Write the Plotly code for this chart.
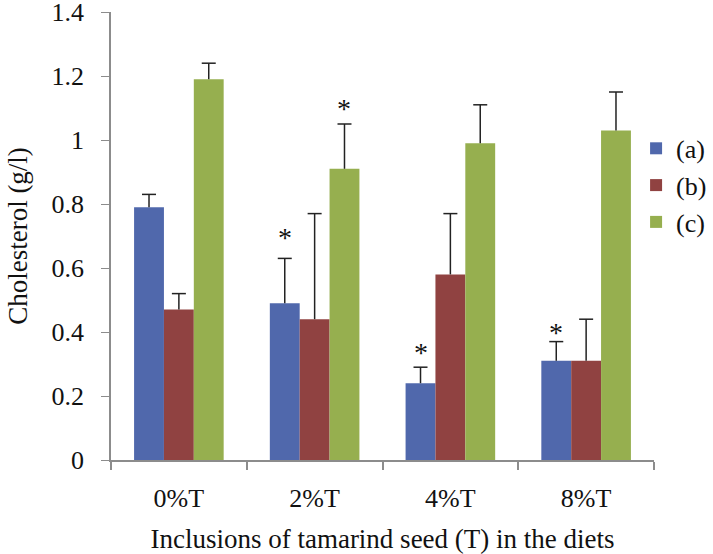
import plotly.graph_objects as go

categories = ["0%T", "2%T", "4%T", "8%T"]
series_names = ["(a)", "(b)", "(c)"]
values_a = [0.79, 0.49, 0.24, 0.31]
values_b = [0.47, 0.44, 0.58, 0.31]
values_c = [1.19, 0.91, 0.99, 1.03]
err_a = [0.04, 0.14, 0.05, 0.06]
err_b = [0.05, 0.33, 0.19, 0.13]
err_c = [0.05, 0.14, 0.12, 0.12]
# significance marks: (category index, series index, y position)
stars = [(1, 0, 0.695), (1, 2, 1.10), (2, 0, 0.335), (3, 0, 0.40)]
y_ticks = [0, 0.2, 0.4, 0.6, 0.8, 1, 1.2, 1.4]
y_tick_labels = ["0", "0.2", "0.4", "0.6", "0.8", "1", "1.2", "1.4"]

colors = ["#5068AC", "#904241", "#96AF4F"]
FONT = "Liberation Serif, Times New Roman, serif"

bargap = 0.34
bw = (1 - bargap) / 3
cat_pos = list(range(len(categories)))

fig = go.Figure()
for k, (name, vals, errs) in enumerate(zip(series_names, [values_a, values_b, values_c],
                                           [err_a, err_b, err_c])):
    xs = [i + (k - 1) * bw for i in cat_pos]
    fig.add_trace(go.Bar(
        x=xs, y=vals, name=name, width=bw,
        marker=dict(color=colors[k], line=dict(width=0)),
        error_y=dict(type="data", symmetric=False, array=errs,
                     arrayminus=[0] * len(errs), color="#222222",
                     thickness=1.5, width=0),
    ))
    # top caps of the error bars
    fig.add_trace(go.Scatter(
        x=xs, y=[v + e for v, e in zip(vals, errs)], mode="markers",
        marker=dict(symbol="line-ew", size=10, line=dict(width=1.5, color="#222222")),
        showlegend=False, hoverinfo="skip",
    ))

for ci, si, yv in stars:
    fig.add_annotation(x=ci + (si - 1) * bw, y=yv, xref="x", yref="y",
                       text="*", showarrow=False,
                       font=dict(family=FONT, size=28, color="#111111"))

fig.update_layout(
    width=713, height=554,
    barmode="overlay",
    plot_bgcolor="white", paper_bgcolor="white",
    margin=dict(l=111, r=59, t=12, b=94, autoexpand=False),
    font=dict(family=FONT, size=26, color="#111111"),
    showlegend=True,
    legend=dict(x=0.967, y=0.748, xanchor="left", yanchor="top",
                traceorder="normal", tracegroupgap=0,
                font=dict(family=FONT, size=26),
                itemwidth=30, bgcolor="rgba(0,0,0,0)"),
    xaxis=dict(
        range=[-0.5, len(categories) - 0.5],
        tickvals=cat_pos, ticktext=categories,
        showline=True, linecolor="#8C8C8C", linewidth=1.5,
        ticks="", tickfont=dict(size=26), showgrid=False, zeroline=False,
        ticklabelstandoff=14,
        minor=dict(tickmode="linear", tick0=-0.5, dtick=1, ticks="outside",
                   ticklen=8, tickcolor="#8C8C8C", tickwidth=1.5, showgrid=False),
        title=dict(text="Inclusions of tamarind seed (T) in the diets",
                   font=dict(size=27), standoff=23),
    ),
    yaxis=dict(
        range=[0, 1.4], tickvals=y_ticks, ticktext=y_tick_labels,
        showline=True, linecolor="#8C8C8C", linewidth=1.5,
        ticks="outside", ticklen=8, tickcolor="#8C8C8C",
        tickfont=dict(size=26), showgrid=False, zeroline=False,
        ticklabelstandoff=12, ticklabeloverflow="allow",
        title=dict(text="Cholesterol (g/l)", font=dict(size=27), standoff=16),
    ),
)

fig.write_html("out.html", config={"displayModeBar": False},
               post_script="document.body.style.margin='0';document.body.style.overflow='hidden';")
